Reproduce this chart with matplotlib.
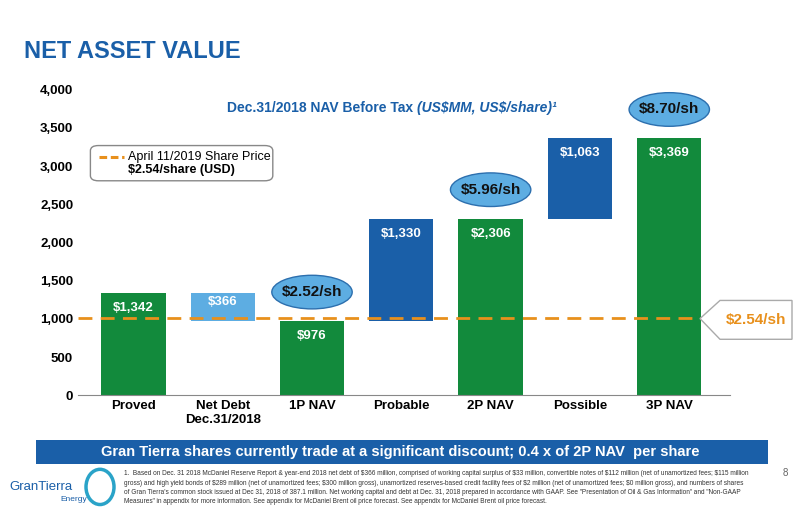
import matplotlib.pyplot as plt
from matplotlib.patches import FancyBboxPatch, Ellipse, Polygon

plt.rcParams["text.parse_math"] = False
plt.rcParams["font.family"] = ["Liberation Sans", "DejaVu Sans"]

categories = ["Proved", "Net Debt\nDec.31/2018", "1P NAV", "Probable", "2P NAV", "Possible", "3P NAV"]
bottoms = [0, 976, 0, 976, 0, 2306, 0]
heights = [1342, 366, 976, 1330, 2306, 1063, 3369]
labels = ["$1,342", "$366", "$976", "$1,330", "$2,306", "$1,063", "$3,369"]
colors = ["#128a3c", "#5dade2", "#128a3c", "#1a5fa8", "#128a3c", "#1a5fa8", "#128a3c"]
share_price_line = 1010
bubbles = [(2, 1350, "$2.52/sh"), (4, 2690, "$5.96/sh"), (6, 3740, "$8.70/sh")]

blue = "#1a5fa8"
orange = "#e8901c"

fig = plt.figure(figsize=(8, 5.18), dpi=100)
ax = fig.add_axes([0.0975, 0.237, 0.815, 0.59])

x = list(range(len(categories)))
ax.bar(x, heights, bottom=bottoms, width=0.72, color=colors)
for i in x:
    y = bottoms[i] + heights[i] - 200
    if i == 1:
        y = bottoms[i] + heights[i] / 2 + 60
    ax.text(i, y, labels[i], ha="center", va="center", color="white", fontsize=9.5, fontweight="bold")

ax.axhline(share_price_line, color=orange, ls=(0, (5, 3)), lw=2)

for bx, by, t in bubbles:
    ax.add_patch(Ellipse((bx, by), 0.9, 440, facecolor="#5dade2", edgecolor="#2c6fae", lw=1, zorder=5))
    ax.text(bx, by, t, ha="center", va="center", fontsize=11, fontweight="bold", color="#111111", zorder=6)

ax.set_xlim(-0.62, 6.68)
ax.set_ylim(0, 4000)
ax.set_yticks(range(0, 4001, 500))
ax.set_yticklabels([f"{v:,}" for v in range(0, 4001, 500)], fontsize=9.5, fontweight="bold")
ax.set_xticks(x)
ax.set_xticklabels(categories, fontsize=9.5, fontweight="bold")
ax.tick_params(length=0)
for s in ["top", "right", "left"]:
    ax.spines[s].set_visible(False)
ax.spines["bottom"].set_color("#888888")

ax.text(0.52, 0.94, "Dec.31/2018 NAV Before Tax ", transform=ax.transAxes, ha="right", va="center",
        fontsize=10, fontweight="bold", color=blue)
ax.text(0.52, 0.94, "(US$MM, US$/share)¹", transform=ax.transAxes, ha="left", va="center",
        fontsize=10, fontweight="bold", style="italic", color=blue)

# legend box
fig.patches.append(FancyBboxPatch((0.117, 0.655), 0.22, 0.06, boxstyle="round,pad=0.004,rounding_size=0.01",
                                  transform=fig.transFigure, facecolor="white", edgecolor="#888888", lw=1))
fig.lines.append(plt.Line2D([0.124, 0.155], [0.697, 0.697], transform=fig.transFigure, color=orange,
                            ls=(0, (2.5, 1.2)), lw=2.2))
fig.text(0.16, 0.697, "April 11/2019 Share Price", fontsize=9, va="center")
fig.text(0.16, 0.672, "$2.54/share (USD)", fontsize=9, fontweight="bold", va="center")

# arrow label on right
fig.patches.append(Polygon([(0.875, 0.385), (0.9, 0.42), (0.99, 0.42), (0.99, 0.345), (0.9, 0.345)],
                           closed=True, transform=fig.transFigure, facecolor="white", edgecolor="#aaaaaa", lw=1))
fig.text(0.945, 0.383, "$2.54/sh", fontsize=11, fontweight="bold", color=orange, ha="center", va="center")

fig.text(0.03, 0.9, "NET ASSET VALUE", fontsize=17, fontweight="bold", color=blue, va="center")

fig.patches.append(FancyBboxPatch((0.045, 0.105), 0.915, 0.045, boxstyle="square,pad=0",
                                  transform=fig.transFigure, facecolor=blue, edgecolor="none"))
fig.text(0.5, 0.128, "Gran Tierra shares currently trade at a significant discount; 0.4 x of 2P NAV  per share",
         fontsize=10.5, fontweight="bold", color="white", ha="center", va="center")

foot = ("1.  Based on Dec. 31 2018 McDaniel Reserve Report & year-end 2018 net debt of $366 million, comprised of working capital surplus of $33 million, convertible notes of $112 million (net of unamortized fees; $115 million\n"
        "gross) and high yield bonds of $289 million (net of unamortized fees; $300 million gross), unamortized reserves-based credit facility fees of $2 million (net of unamortized fees; $0 million gross), and numbers of shares\n"
        "of Gran Tierra's common stock issued at Dec 31, 2018 of 387.1 million. Net working capital and debt at Dec. 31, 2018 prepared in accordance with GAAP. See \"Presentation of Oil & Gas Information\" and \"Non-GAAP\n"
        "Measures\" in appendix for more information. See appendix for McDaniel Brent oil price forecast. See appendix for McDaniel Brent oil price forecast.")
fig.text(0.155, 0.092, foot, fontsize=4.7, va="top", color="#333333", linespacing=1.45)
fig.text(0.985, 0.086, "8", fontsize=7, color="#666666", ha="right", va="center")
fig.text(0.012, 0.06, "GranTierra", fontsize=9.5, color="#1a5fa8", va="center")
fig.text(0.075, 0.035, "Energy", fontsize=6, color="#1a5fa8", va="center")
fig.patches.append(Ellipse((0.125, 0.06), 0.035, 0.068, transform=fig.transFigure, facecolor="none",
                           edgecolor="#2aa3c8", lw=2.5))

fig.savefig("out.png", dpi=100)
